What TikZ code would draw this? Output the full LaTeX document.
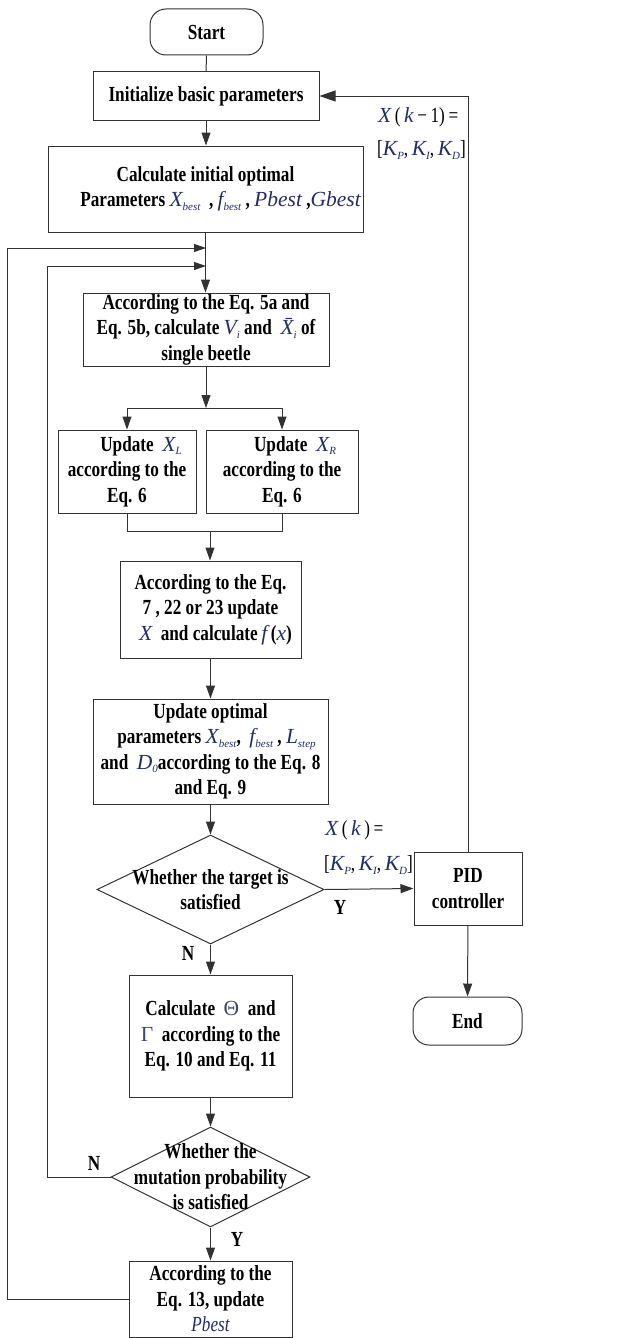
\documentclass[tikz,border=0pt]{standalone}
\usepackage{fontspec}
\setmainfont{Liberation Serif}[FakeStretch=0.8]
\newfontfamily\mathfam{Liberation Serif}
\usetikzlibrary{arrows.meta,shapes.geometric}
\definecolor{linec}{RGB}{50,50,50}
\definecolor{mathc}{RGB}{35,45,100}
\newcommand\vi[1]{{\mathfam\color{mathc}\mdseries\itshape #1}}
\newcommand\vs[1]{{\color{mathc}\mdseries\itshape #1}}
\newcommand\vg[1]{{\mathfam\color{mathc!70!gray}\mdseries #1}}
\newcommand\ssb[1]{\raisebox{-0.35ex}{\fontsize{11}{11}\selectfont #1}}
\newcommand\mainsize{\fontsize{21.5}{25.5}\selectfont\bfseries}
\newcommand\labsize{\fontsize{21.5}{25.5}\selectfont}
\tikzset{
  box/.style={draw=linec, line width=1pt, rectangle, inner sep=0pt, align=center, font=\mainsize, text=black},
  term/.style={box, rounded corners=16pt},
  dia/.style={draw=linec, line width=1pt, diamond, align=center, font=\mainsize, text=black},
  lab/.style={inner sep=0pt, anchor=west, font=\labsize},
  yn/.style={inner sep=0pt, font=\mainsize},
  ln/.style={draw=linec, line width=1pt},
  arr/.style={ln, -{Triangle[length=13pt,width=9pt]}},
  arrb/.style={ln, -{Triangle[length=16pt,width=11pt]}},
  arrs/.style={ln, -{Triangle[length=12pt,width=8pt]}},
}
\begin{document}
\begin{tikzpicture}[x=1pt,y=-1pt]
\useasboundingbox (0,0) rectangle (623,1338);
% nodes
\node[term, minimum width=113pt, minimum height=46pt] (start) at (206.5,32) {Start};
\node[box, minimum width=226pt, minimum height=48pt] (init) at (206,96) {Initialize basic parameters};
\node[box, minimum width=315pt, minimum height=86pt] (calc) at (205.5,189)
  {Calculate initial optimal\\ \hspace*{30pt}Parameters \vi{X\ssb{best}} \ , \vi{f\ssb{best}} , \vi{Pbest} ,\vi{Gbest}};
\node[box, minimum width=246pt, minimum height=73pt] (eq5) at (206,329.5)
  {According to the Eq. 5a and\\ Eq. 5b, calculate \vi{V\ssb{i}} and \ \vi{\={X}\ssb{i}} of\\ single beetle};
\node[box, minimum width=138pt, minimum height=83pt] (xl) at (127,471.5)
  {\hspace*{28pt}Update \ \vi{X\ssb{L}}\\ according to the\\ Eq. 6};
\node[box, minimum width=152pt, minimum height=83pt] (xr) at (282,471.5)
  {\hspace*{26pt}Update \ \vi{X\ssb{R}}\\ according to the\\ Eq. 6};
\node[box, minimum width=181pt, minimum height=97pt] (eq7) at (210.5,609.5)
  {According to the Eq.\\ 7 , 22 or 23 update\\ \hspace*{10pt}\vi{X} \ and calculate\,\vi{f}\,(\vi{x})};
\node[box, minimum width=235pt, minimum height=105pt] (upd) at (210.5,751.5)
  {Update optimal\\ \hspace*{12pt}parameters \vi{X\ssb{best}}, \ \vi{f\ssb{best}} , \vi{L\ssb{step}}\\ and \ \vi{D\ssb{0}}according to the Eq. 8\\ and Eq. 9};
\node[dia, inner xsep=-30pt, inner ysep=-20pt, minimum width=227pt, minimum height=109pt] (d1) at (210.5,889.5)
  {Whether the target is\\ satisfied};
\node[box, minimum width=108pt, minimum height=73pt] (pid) at (468,888.5) {PID\\ controller};
\node[term, minimum width=109pt, minimum height=48pt] (end) at (467.5,1021) {End};
\node[box, minimum width=163pt, minimum height=122pt] (calct) at (210.5,1036)
  {Calculate \ \vg{Θ} \ and\\ \vg{Γ} \ according to the\\ Eq. 10 and Eq. 11};
\node[dia, inner xsep=-40pt, inner ysep=-30pt, minimum width=199pt, minimum height=100pt] (d2) at (210.5,1177)
  {Whether the\\ mutation probability\\ is satisfied};
\node[box, minimum width=163pt, minimum height=76pt] (pb) at (210.5,1299)
  {According to the\\ Eq. 13, update\\ \vs{Pbest}};
% labels
\node[lab] (l1) at (378,117) {\vi{X}\,(\,\vi{k}\,−\,1)\,=};
\node[lab] (l2) at (377,150) {[\vi{K\ssb{P}},\,\vi{K\ssb{I}},\,\vi{K\ssb{D}}]};
\node[lab] (l3) at (325,830) {\vi{X}\,(\,\vi{k}\,)\,=};
\node[lab] (l4) at (324,865) {[\vi{K\ssb{P}},\,\vi{K\ssb{I}},\,\vi{K\ssb{D}}]};
\node[yn] (y1) at (340,907) {Y};
\node[yn] (n1) at (188,953) {N};
\node[yn] (n2) at (94,1163) {N};
\node[yn] (y2) at (237,1239) {Y};
% coordinates
\coordinate (br) at (206,408);
\coordinate (jn) at (210,531);
\coordinate (lo1) at (7,248);
\coordinate (m1) at (206,248);
\coordinate (lo2) at (47,266);
\coordinate (m2) at (206,266);
% connectors
\draw[ln] (start) -- (init);
\draw[arr] (init) -- (init.south |- calc.north);
\draw[arr] (calc.south) -- (calc.south |- eq5.north);
\draw[arr] (eq5.south) -- (br);
\draw[arr] (br) -| (xl.north);
\draw[arr] (br) -| (xr.north);
\draw[ln] (xl.south) |- (jn);
\draw[ln] (xr.south) |- (jn);
\draw[arr] (jn) -- (jn |- eq7.north);
\draw[arr] (eq7) -- (upd);
\draw[arr] (upd) -- (d1);
\draw[arr] (d1.east) -- (pid.west);
\draw[arr] (d1) -- (calct);
\draw[arr] (pid) -- (end);
\draw[arrb] (pid.north) |- (init.east);
\draw[arr] (calct) -- (d2);
\draw[arr] (d2) -- (pb);
\draw[arrs] (d2.west) -| (lo2) -- (m2);
\draw[arrs] (pb.west) -| (lo1) -- (m1);
\end{tikzpicture}
\end{document}
